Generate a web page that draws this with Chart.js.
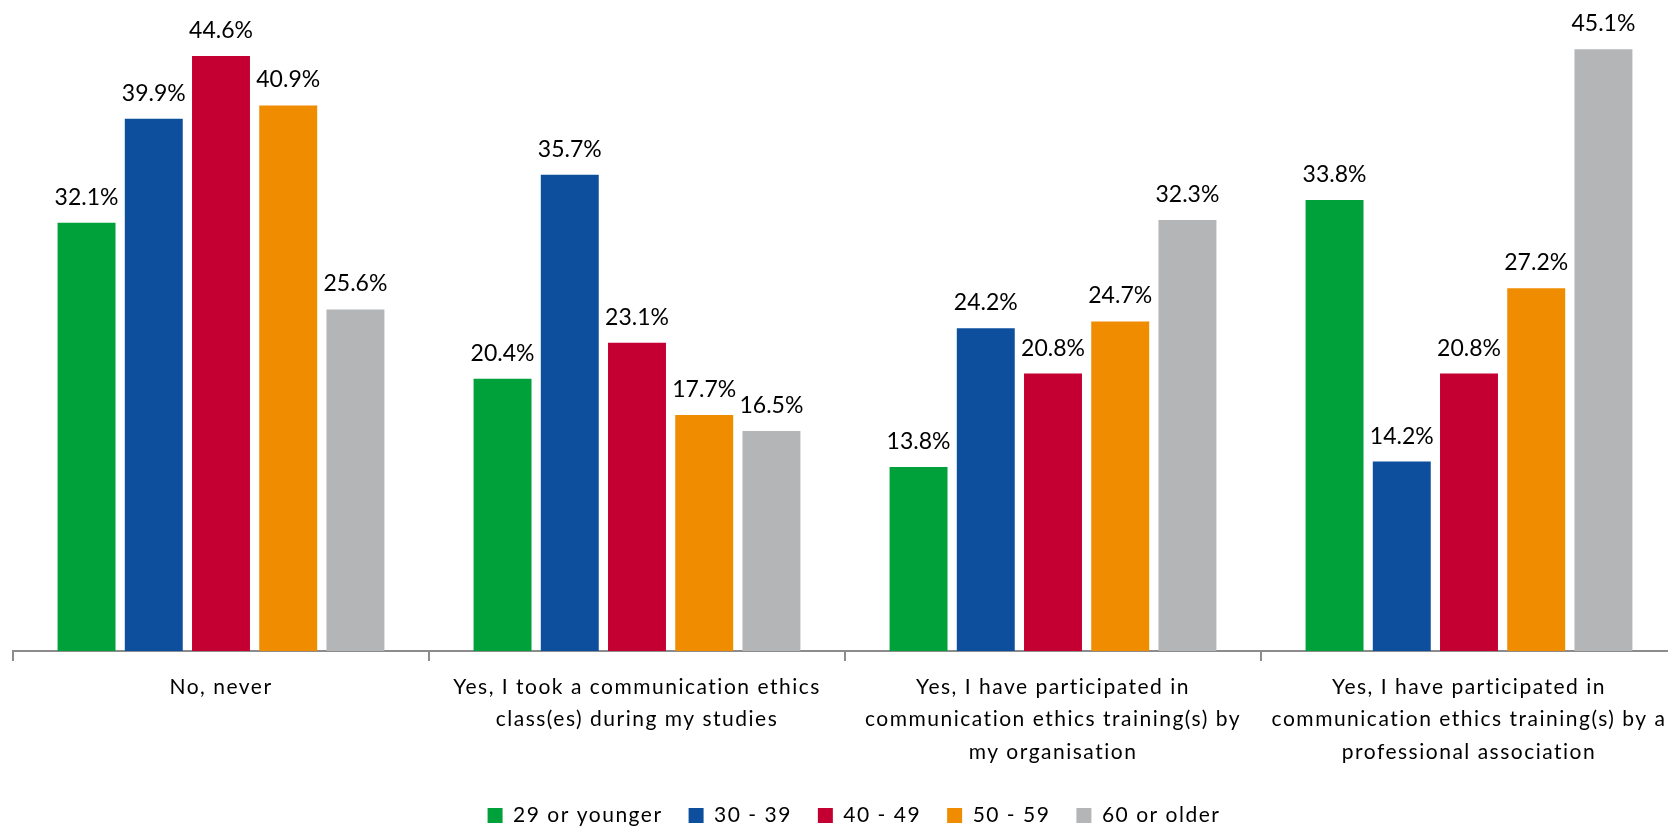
<!DOCTYPE html>
<html lang="en">
<head>
  <meta charset="UTF-8" />
  <title>Communication ethics training by age</title>
  <script src="https://cdn.jsdelivr.net/npm/chart.js"></script>
  <style>
    html, body { margin: 0; padding: 0; background: #fff; overflow: hidden; }
    #wrap { width: 1668px; height: 829px; overflow: hidden; }
  </style>
</head>
<body>
  <div id="wrap">
    <canvas id="trainingChart" width="1690" height="836"></canvas>
  </div>

<script>
const categories = [
  ['No, never'],
  ['Yes, I took a communication ethics', 'class(es) during my studies'],
  ['Yes, I have participated in', 'communication ethics training(s) by', 'my organisation'],
  ['Yes, I have participated in', 'communication ethics training(s) by a', 'professional association']
];

const ageGroups = ['29 or younger', '30 - 39', '40 - 49', '50 - 59', '60 or older'];
const groupColors = ['#00a03b', '#0d4f9c', '#c30031', '#f08c00', '#b4b5b7'];

const young = [32.1, 20.4, 13.8, 33.8];
const thirties = [39.9, 35.7, 24.2, 14.2];
const forties = [44.6, 23.1, 20.8, 20.8];
const fifties = [40.9, 17.7, 24.7, 27.2];
const older = [25.6, 16.5, 32.3, 45.1];

const seriesValues = [young, thirties, forties, fifties, older];

const font = "Lato, 'Open Sans', sans-serif";
const textSpacing = '1.5px';

// the axis labels and legend are set a little loose
const looseText = {
  id: 'looseText',
  beforeLayout(chart) { chart.ctx.letterSpacing = textSpacing; },
  afterLayout(chart) {
    chart.legend.left += 9;
    chart.legend.right += 9;
  },
  beforeDraw(chart) { chart.ctx.letterSpacing = textSpacing; }
};

// percentage above each bar
const valueLabels = {
  id: 'valueLabels',
  afterDatasetsDraw(chart) {
    const ctx = chart.ctx;
    ctx.save();
    ctx.letterSpacing = '0px';
    ctx.font = '23px ' + font;
    ctx.fillStyle = '#000';
    ctx.textAlign = 'center';
    ctx.textBaseline = 'alphabetic';
    chart.data.datasets.forEach((ds, i) => {
      chart.getDatasetMeta(i).data.forEach((bar, j) => {
        ctx.fillText(ds.data[j].toFixed(1) + '%', bar.x, bar.y - 18);
      });
    });
    ctx.restore();
  }
};

new Chart(document.getElementById('trainingChart'), {
  type: 'bar',
  data: {
    labels: categories,
    datasets: ageGroups.map((name, i) => ({
      label: name,
      data: seriesValues[i],
      backgroundColor: groupColors[i],
      borderWidth: 0,
      categoryPercentage: 0.808,
      barPercentage: 0.862
    }))
  },
  options: {
    responsive: false,
    animation: false,
    layout: { padding: { top: 0, left: 13, right: 13, bottom: 0 } },
    plugins: {
      tooltip: { enabled: false },
      legend: {
        position: 'bottom',
        labels: {
          boxWidth: 15,
          boxHeight: 15,
          padding: 26,
          color: '#000',
          font: { family: font, size: 21 }
        }
      }
    },
    scales: {
      x: {
        border: { color: '#8c8c8c', width: 2 },
        grid: {
          drawOnChartArea: false,
          drawTicks: true,
          tickLength: 10,
          color: '#8c8c8c',
          lineWidth: 2
        },
        ticks: {
          color: '#000',
          padding: 9.75,
          maxRotation: 0,
          autoSkip: false,
          font: { family: font, size: 21, lineHeight: 1.548 }
        },
        afterFit(scale) { scale.height = 128; }
      },
      y: {
        display: false,
        min: 0,
        max: 48.8
      }
    }
  },
  plugins: [looseText, valueLabels]
});
</script>
</body>
</html>
